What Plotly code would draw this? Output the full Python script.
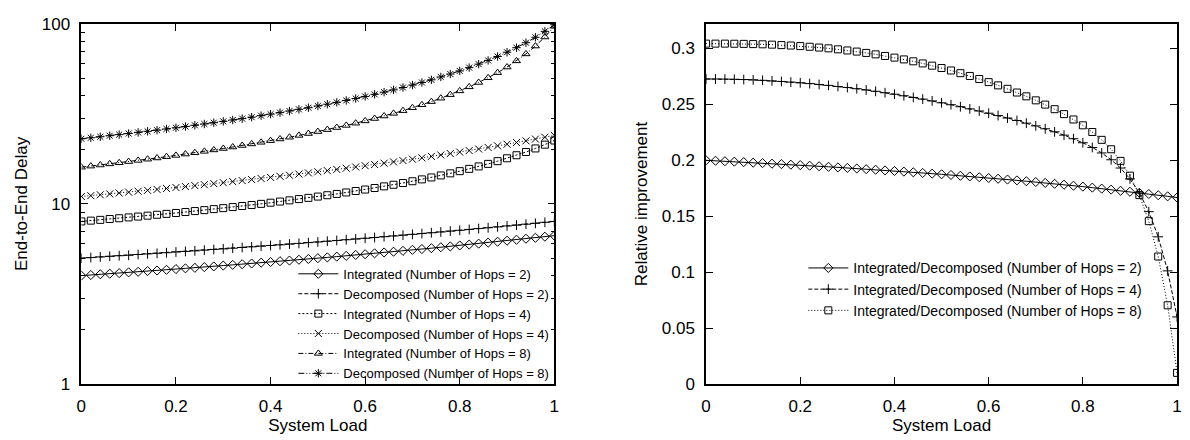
import plotly.graph_objects as go

# ---------------- data ----------------
load = [round(0.02 * i, 2) for i in range(51)]

int_h2 = [4.00, 4.03, 4.07, 4.10, 4.13, 4.17, 4.20, 4.24, 4.27, 4.31, 4.35, 4.39, 4.42, 4.46, 4.50, 4.55, 4.59,
          4.63, 4.67, 4.72, 4.76, 4.81, 4.85, 4.90, 4.95, 5.00, 5.05, 5.10, 5.15, 5.21, 5.26, 5.32, 5.38, 5.43,
          5.49, 5.56, 5.62, 5.68, 5.75, 5.81, 5.88, 5.95, 6.02, 6.10, 6.17, 6.25, 6.33, 6.41, 6.49, 6.58, 6.67]
dec_h2 = [5.00, 5.04, 5.08, 5.12, 5.16, 5.19, 5.24, 5.28, 5.32, 5.36, 5.41, 5.45, 5.49, 5.54, 5.59, 5.63, 5.68,
          5.73, 5.78, 5.83, 5.88, 5.93, 5.99, 6.04, 6.10, 6.15, 6.21, 6.27, 6.33, 6.39, 6.45, 6.51, 6.58, 6.64,
          6.71, 6.78, 6.85, 6.92, 6.99, 7.07, 7.14, 7.22, 7.30, 7.38, 7.46, 7.55, 7.63, 7.72, 7.81, 7.91, 8.00]
int_h4 = [8.00, 8.08, 8.16, 8.25, 8.33, 8.42, 8.51, 8.61, 8.71, 8.81, 8.91, 9.02, 9.13, 9.24, 9.36, 9.48, 9.61,
          9.74, 9.87, 10.01, 10.16, 10.31, 10.47, 10.64, 10.81, 10.99, 11.18, 11.37, 11.58, 11.80, 12.02, 12.26,
          12.52, 12.78, 13.07, 13.37, 13.69, 14.03, 14.40, 14.79, 15.21, 15.66, 16.16, 16.69, 17.28, 17.93, 18.64,
          19.43, 20.33, 21.34, 22.50]
dec_h4 = [11.00, 11.12, 11.24, 11.37, 11.50, 11.63, 11.76, 11.90, 12.04, 12.19, 12.34, 12.49, 12.64, 12.80, 12.97,
          13.13, 13.31, 13.48, 13.66, 13.85, 14.04, 14.24, 14.44, 14.65, 14.87, 15.09, 15.31, 15.55, 15.79, 16.04,
          16.30, 16.56, 16.84, 17.12, 17.41, 17.72, 18.03, 18.36, 18.70, 19.05, 19.41, 19.79, 20.18, 20.59, 21.02,
          21.46, 21.93, 22.41, 22.92, 23.45, 24.00]
int_h8 = [16.00, 16.22, 16.45, 16.69, 16.93, 17.19, 17.45, 17.72, 18.00, 18.30, 18.60, 18.92, 19.25, 19.59, 19.95,
          20.32, 20.71, 21.12, 21.54, 21.99, 22.46, 22.95, 23.47, 24.02, 24.60, 25.22, 25.87, 26.56, 27.29, 28.08,
          28.91, 29.81, 30.78, 31.83, 32.96, 34.19, 35.53, 37.00, 38.63, 40.43, 42.43, 44.69, 47.25, 50.18, 53.57,
          57.55, 62.29, 68.07, 75.26, 84.52, 96.97]
dec_h8 = [23.00, 23.30, 23.61, 23.93, 24.26, 24.60, 24.95, 25.31, 25.69, 26.08, 26.48, 26.90, 27.34, 27.79, 28.26,
          28.74, 29.25, 29.78, 30.33, 30.91, 31.51, 32.14, 32.80, 33.50, 34.22, 34.99, 35.80, 36.65, 37.56, 38.51,
          39.53, 40.61, 41.76, 42.99, 44.30, 45.72, 47.25, 48.90, 50.69, 52.64, 54.78, 57.13, 59.74, 62.63, 65.88,
          69.55, 73.73, 78.56, 84.19, 90.86, 98.91]

rel_h2 = [0.2000, 0.1996, 0.1992, 0.1988, 0.1984, 0.1979, 0.1975, 0.1970, 0.1966, 0.1961, 0.1957, 0.1952, 0.1947,
          0.1942, 0.1937, 0.1932, 0.1927, 0.1921, 0.1916, 0.1910, 0.1905, 0.1899, 0.1893, 0.1887, 0.1881, 0.1875,
          0.1869, 0.1862, 0.1856, 0.1849, 0.1842, 0.1835, 0.1828, 0.1821, 0.1813, 0.1806, 0.1798, 0.1790, 0.1782,
          0.1773, 0.1765, 0.1756, 0.1747, 0.1738, 0.1728, 0.1719, 0.1709, 0.1699, 0.1688, 0.1678, 0.1667]
rel_h4 = [0.2727, 0.2727, 0.2726, 0.2724, 0.2722, 0.2719, 0.2715, 0.2710, 0.2705, 0.2699, 0.2693, 0.2686, 0.2678,
          0.2670, 0.2660, 0.2651, 0.2640, 0.2629, 0.2617, 0.2604, 0.2591, 0.2577, 0.2562, 0.2547, 0.2531, 0.2514,
          0.2497, 0.2479, 0.2460, 0.2441, 0.2421, 0.2400, 0.2378, 0.2356, 0.2332, 0.2308, 0.2282, 0.2255, 0.2225,
          0.2193, 0.2157, 0.2115, 0.2066, 0.2005, 0.1931, 0.1834, 0.1708, 0.1541, 0.1316, 0.1012, 0.0600]
rel_h8 = [0.3043, 0.3043, 0.3043, 0.3042, 0.3041, 0.3039, 0.3037, 0.3034, 0.3030, 0.3026, 0.3021, 0.3015, 0.3008,
          0.3001, 0.2992, 0.2982, 0.2972, 0.2960, 0.2947, 0.2933, 0.2918, 0.2902, 0.2885, 0.2866, 0.2846, 0.2825,
          0.2803, 0.2779, 0.2754, 0.2727, 0.2699, 0.2670, 0.2639, 0.2606, 0.2572, 0.2536, 0.2498, 0.2457, 0.2413,
          0.2365, 0.2313, 0.2253, 0.2183, 0.2099, 0.1995, 0.1863, 0.1689, 0.1456, 0.1140, 0.0704, 0.0100]

left_names = ["Integrated (Number of Hops = 2)", "Decomposed (Number of Hops = 2)",
              "Integrated (Number of Hops = 4)", "Decomposed (Number of Hops = 4)",
              "Integrated (Number of Hops = 8)", "Decomposed (Number of Hops = 8)"]
right_names = ["Integrated/Decomposed (Number of Hops = 2)",
               "Integrated/Decomposed (Number of Hops = 4)",
               "Integrated/Decomposed (Number of Hops = 8)"]
x_ticks = [0, 0.2, 0.4, 0.6, 0.8, 1]
y_left_ticks = [1, 10, 100]
y_left_minor = [2, 3, 4, 5, 6, 7, 8, 9, 20, 30, 40, 50, 60, 70, 80, 90]
y_right_ticks = [0, 0.05, 0.1, 0.15, 0.2, 0.25, 0.3]

# ---------------- styles ----------------
FONT = "Liberation Sans, Arial, Helvetica, sans-serif"
left_series = [int_h2, dec_h2, int_h4, dec_h4, int_h8, dec_h8]
left_styles = [("diamond-open", "solid"), ("cross-thin-open", "4px,2px"), ("square-open", "2px,2px"),
               ("x-thin-open", "1px,2px"), ("triangle-up-open", "5px,2px,1px,2px"),
               ("asterisk-open", "6px,2px,1px,2px,1px,2px")]
right_series = [rel_h2, rel_h4, rel_h8]
right_styles = [("diamond-open", "solid"), ("cross-thin-open", "4px,2px"), ("square-open", "1px,2px")]

fig = go.Figure()
for ys, name, (sym, dash) in zip(left_series, left_names, left_styles):
    fig.add_trace(go.Scatter(
        x=load, y=ys, name=name, mode="lines+markers", xaxis="x", yaxis="y", legend="legend",
        line=dict(color="black", width=1, dash=dash),
        marker=dict(symbol=sym, size=7, color="black", line=dict(color="black", width=1))))
for ys, name, (sym, dash) in zip(right_series, right_names, right_styles):
    fig.add_trace(go.Scatter(
        x=load, y=ys, name=name, mode="lines+markers", xaxis="x2", yaxis="y2", legend="legend2",
        line=dict(color="black", width=1, dash=dash),
        marker=dict(symbol=sym, size=7, color="black", line=dict(color="black", width=1))))

W, H = 1190, 440
axis_common = dict(showline=True, linecolor="black", linewidth=1.5, mirror="allticks", ticks="inside",
                   ticklen=7, tickwidth=1, tickcolor="black", showgrid=False, zeroline=False,
                   tickfont=dict(family=FONT, size=17, color="black"), ticklabelstandoff=6)
ydom = [(H - 392) / H, (H - 15.5) / H]

fig.update_layout(
    width=W, height=H, margin=dict(l=0, r=0, t=0, b=0),
    paper_bgcolor="white", plot_bgcolor="white",
    font=dict(family=FONT, size=17, color="black"),
    xaxis=dict(domain=[77 / W, 554 / W], range=[0, 1], tickvals=x_ticks, anchor="y",
               title=dict(text="System Load", standoff=4, font=dict(size=17)), **axis_common),
    yaxis=dict(domain=ydom, type="log", range=[0, 2], tickvals=y_left_ticks, anchor="x",
               minor=dict(ticks="inside", ticklen=4, tickvals=y_left_minor, tickcolor="black"),
               title=dict(text="End-to-End Delay", standoff=10, font=dict(size=17)), **axis_common),
    xaxis2=dict(domain=[707 / W, 1182 / W], range=[0, 1], tickvals=x_ticks, anchor="y2",
                title=dict(text="System Load", standoff=4, font=dict(size=17)), **axis_common),
    yaxis2=dict(domain=ydom, range=[0, 0.322], tickvals=y_right_ticks, anchor="x2",
                title=dict(text="Relative improvement", standoff=10, font=dict(size=17)), **axis_common),
    legend=dict(x=554 / W, xanchor="right", y=(H - 397) / H, yanchor="bottom",
                bgcolor="rgba(0,0,0,0)", font=dict(family=FONT, size=13), itemwidth=40,
                tracegroupgap=0),
    legend2=dict(x=1152 / W, xanchor="right", y=(H - 293) / H, yanchor="middle",
                 bgcolor="rgba(0,0,0,0)", font=dict(family=FONT, size=14), itemwidth=40,
                 tracegroupgap=0),
)

fig.write_html("out.html")
